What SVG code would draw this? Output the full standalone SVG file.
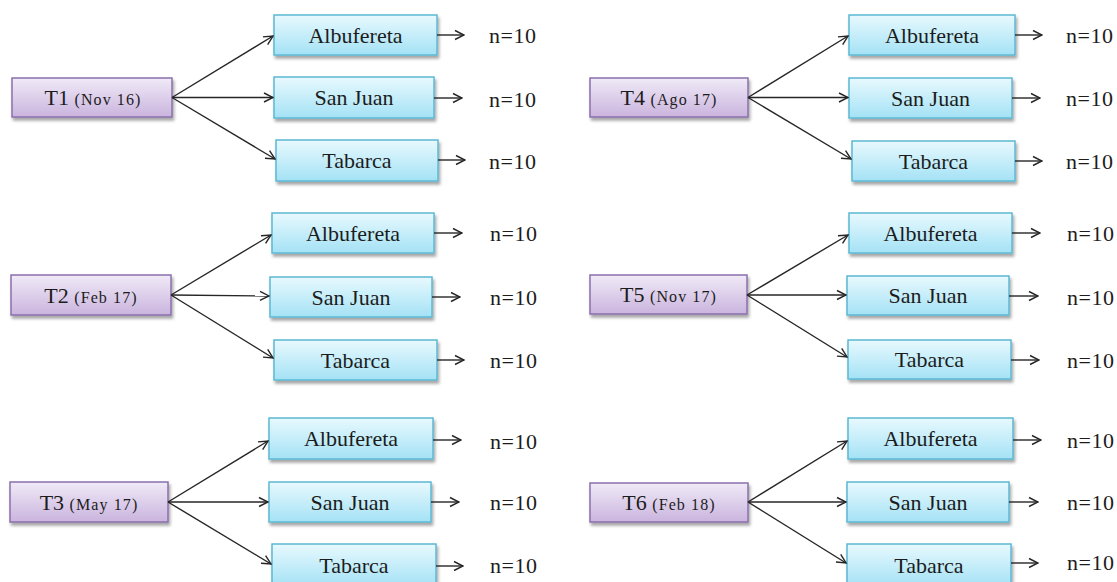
<svg xmlns="http://www.w3.org/2000/svg" width="1117" height="582" viewBox="0 0 1117 582">
<defs>
<linearGradient id="gBlue" x1="0" y1="0" x2="0" y2="1">
<stop offset="0" stop-color="#e8f9fe"/>
<stop offset="1" stop-color="#a4e2f5"/>
</linearGradient>
<linearGradient id="gPurple" x1="0" y1="0" x2="0" y2="1">
<stop offset="0" stop-color="#f0eaf7"/>
<stop offset="1" stop-color="#cab4de"/>
</linearGradient>
<filter id="sh" x="-10%" y="-20%" width="130%" height="160%">
<feDropShadow dx="1.5" dy="3" stdDeviation="1.8" flood-color="#000" flood-opacity="0.35"/>
</filter>
<marker id="ah" viewBox="0 0 12 12" refX="11" refY="6" markerWidth="12" markerHeight="12" markerUnits="userSpaceOnUse" orient="auto">
<path d="M2,1.5 L11,6 L2,10.5" fill="none" stroke="#262626" stroke-width="1.4"/>
</marker>
</defs>
<style>
.src{fill:url(#gPurple);stroke:#8a6fad;stroke-width:1.5;filter:url(#sh)}
.site{fill:url(#gBlue);stroke:#5cb8d4;stroke-width:1.5;filter:url(#sh)}
.lbl{font-family:"Liberation Serif","Times New Roman",serif;font-size:22px;fill:#1c1c1c;text-anchor:middle}
.sm{font-size:16px;letter-spacing:1.1px}
.n{font-family:"Liberation Serif","Times New Roman",serif;font-size:22px;fill:#1c1c1c;letter-spacing:0.5px}
.c line{stroke:#262626;stroke-width:1.4;marker-end:url(#ah)}
</style>
<rect width="1117" height="582" fill="#ffffff"/>

<!-- Block 1 -->
<g id="T1"><rect class="src" x="12" y="78" width="160" height="39"/><text class="lbl" x="93" y="105">T1 <tspan class="sm">(Nov 16)</tspan></text></g>
<g id="T1-Albufereta"><rect class="site" x="274" y="15" width="163" height="40"/><text class="lbl" x="355.5" y="42.5">Albufereta</text></g>
<g id="T1-SanJuan"><rect class="site" x="274" y="77" width="160" height="41"/><text class="lbl" x="354" y="105">San Juan</text></g>
<g id="T1-Tabarca"><rect class="site" x="276" y="140" width="162" height="41"/><text class="lbl" x="357" y="168">Tabarca</text></g>
<g id="T1-n"><text class="n" x="489" y="42.5">n=10</text><text class="n" x="489" y="106.5">n=10</text><text class="n" x="489" y="169">n=10</text></g>

<!-- Block 2 -->
<g id="T2"><rect class="src" x="11" y="275" width="160" height="40"/><text class="lbl" x="91" y="303">T2 <tspan class="sm">(Feb 17)</tspan></text></g>
<g id="T2-Albufereta"><rect class="site" x="272" y="213" width="162" height="40"/><text class="lbl" x="353" y="240.5">Albufereta</text></g>
<g id="T2-SanJuan"><rect class="site" x="270" y="277" width="162" height="40"/><text class="lbl" x="351" y="304.5">San Juan</text></g>
<g id="T2-Tabarca"><rect class="site" x="274" y="340" width="163" height="40"/><text class="lbl" x="355.5" y="367.5">Tabarca</text></g>
<g id="T2-n"><text class="n" x="490" y="240.5">n=10</text><text class="n" x="490" y="304.5">n=10</text><text class="n" x="490" y="367.5">n=10</text></g>

<!-- Block 3 -->
<g id="T3"><rect class="src" x="10" y="482" width="158" height="40"/><text class="lbl" x="89" y="509.5">T3 <tspan class="sm">(May 17)</tspan></text></g>
<g id="T3-Albufereta"><rect class="site" x="269" y="418" width="164" height="41"/><text class="lbl" x="351" y="446">Albufereta</text></g>
<g id="T3-SanJuan"><rect class="site" x="269" y="482" width="162" height="40"/><text class="lbl" x="350" y="509.5">San Juan</text></g>
<g id="T3-Tabarca"><rect class="site" x="272" y="544" width="164" height="42"/><text class="lbl" x="354" y="573">Tabarca</text></g>
<g id="T3-n"><text class="n" x="490" y="448.5">n=10</text><text class="n" x="490" y="510">n=10</text><text class="n" x="490" y="572.5">n=10</text></g>

<!-- Block 4 -->
<g id="T4"><rect class="src" x="590" y="78" width="158" height="39"/><text class="lbl" x="669" y="105">T4 <tspan class="sm">(Ago 17)</tspan></text></g>
<g id="T4-Albufereta"><rect class="site" x="849" y="15" width="166" height="40"/><text class="lbl" x="932" y="42.5">Albufereta</text></g>
<g id="T4-SanJuan"><rect class="site" x="849" y="78" width="163" height="40"/><text class="lbl" x="930.5" y="105.5">San Juan</text></g>
<g id="T4-Tabarca"><rect class="site" x="852" y="141" width="163" height="40"/><text class="lbl" x="933.5" y="168.5">Tabarca</text></g>
<g id="T4-n"><text class="n" x="1066" y="42.5">n=10</text><text class="n" x="1066" y="106">n=10</text><text class="n" x="1066" y="168.5">n=10</text></g>

<!-- Block 5 -->
<g id="T5"><rect class="src" x="590" y="275" width="157" height="39"/><text class="lbl" x="668.5" y="302">T5 <tspan class="sm">(Nov 17)</tspan></text></g>
<g id="T5-Albufereta"><rect class="site" x="849" y="213" width="163" height="40"/><text class="lbl" x="930.5" y="240.5">Albufereta</text></g>
<g id="T5-SanJuan"><rect class="site" x="847" y="276" width="162" height="39"/><text class="lbl" x="928" y="303">San Juan</text></g>
<g id="T5-Tabarca"><rect class="site" x="848" y="340" width="163" height="39"/><text class="lbl" x="929.5" y="367">Tabarca</text></g>
<g id="T5-n"><text class="n" x="1067" y="240.5">n=10</text><text class="n" x="1067" y="304.5">n=10</text><text class="n" x="1067" y="367.5">n=10</text></g>

<!-- Block 6 -->
<g id="T6"><rect class="src" x="590" y="483" width="158" height="39"/><text class="lbl" x="669" y="510">T6 <tspan class="sm">(Feb 18)</tspan></text></g>
<g id="T6-Albufereta"><rect class="site" x="848" y="418" width="165" height="41"/><text class="lbl" x="930.5" y="446">Albufereta</text></g>
<g id="T6-SanJuan"><rect class="site" x="847" y="482" width="162" height="40"/><text class="lbl" x="928" y="509.5">San Juan</text></g>
<g id="T6-Tabarca"><rect class="site" x="847" y="544" width="164" height="42"/><text class="lbl" x="929" y="572.5">Tabarca</text></g>
<g id="T6-n"><text class="n" x="1067" y="447.5">n=10</text><text class="n" x="1067" y="509.5">n=10</text><text class="n" x="1067" y="569.5">n=10</text></g>

<g id="connectors" class="c">
<!-- Block 1 -->
<line x1="172" y1="97.5" x2="273" y2="36"/>
<line x1="172" y1="97.5" x2="273" y2="97.5"/>
<line x1="172" y1="97.5" x2="275" y2="159"/>
<line x1="437" y1="35" x2="464" y2="35"/>
<line x1="434" y1="98" x2="462" y2="98"/>
<line x1="438" y1="160" x2="465" y2="160"/>
<!-- Block 2 -->
<line x1="171" y1="295" x2="271" y2="235"/>
<line x1="171" y1="295" x2="269" y2="296"/>
<line x1="171" y1="295" x2="273" y2="358"/>
<line x1="434" y1="233" x2="462" y2="233"/>
<line x1="432" y1="297" x2="460" y2="297"/>
<line x1="437" y1="360" x2="464" y2="360"/>
<!-- Block 3 -->
<line x1="168" y1="502" x2="268" y2="441"/>
<line x1="168" y1="502" x2="268" y2="502"/>
<line x1="168" y1="502" x2="271" y2="564"/>
<line x1="433" y1="440" x2="461" y2="440"/>
<line x1="431" y1="502" x2="459" y2="502"/>
<line x1="436" y1="566" x2="463" y2="566"/>
<!-- Block 4 -->
<line x1="748" y1="97.5" x2="848" y2="36"/>
<line x1="748" y1="97.5" x2="848" y2="97.5"/>
<line x1="748" y1="97.5" x2="851" y2="159"/>
<line x1="1015" y1="35" x2="1042" y2="35"/>
<line x1="1012" y1="98" x2="1040" y2="98"/>
<line x1="1015" y1="161" x2="1042" y2="161"/>
<!-- Block 5 -->
<line x1="747" y1="295" x2="848" y2="235"/>
<line x1="747" y1="295" x2="846" y2="295"/>
<line x1="747" y1="295" x2="847" y2="357"/>
<line x1="1012" y1="233" x2="1040" y2="233"/>
<line x1="1009" y1="296" x2="1038" y2="296"/>
<line x1="1011" y1="360" x2="1039" y2="360"/>
<!-- Block 6 -->
<line x1="748" y1="502" x2="847" y2="441"/>
<line x1="748" y1="502" x2="846" y2="502"/>
<line x1="748" y1="502" x2="846" y2="563"/>
<line x1="1013" y1="440" x2="1041" y2="440"/>
<line x1="1009" y1="502" x2="1038" y2="502"/>
<line x1="1011" y1="563" x2="1038" y2="563"/>
</g>
</svg>
